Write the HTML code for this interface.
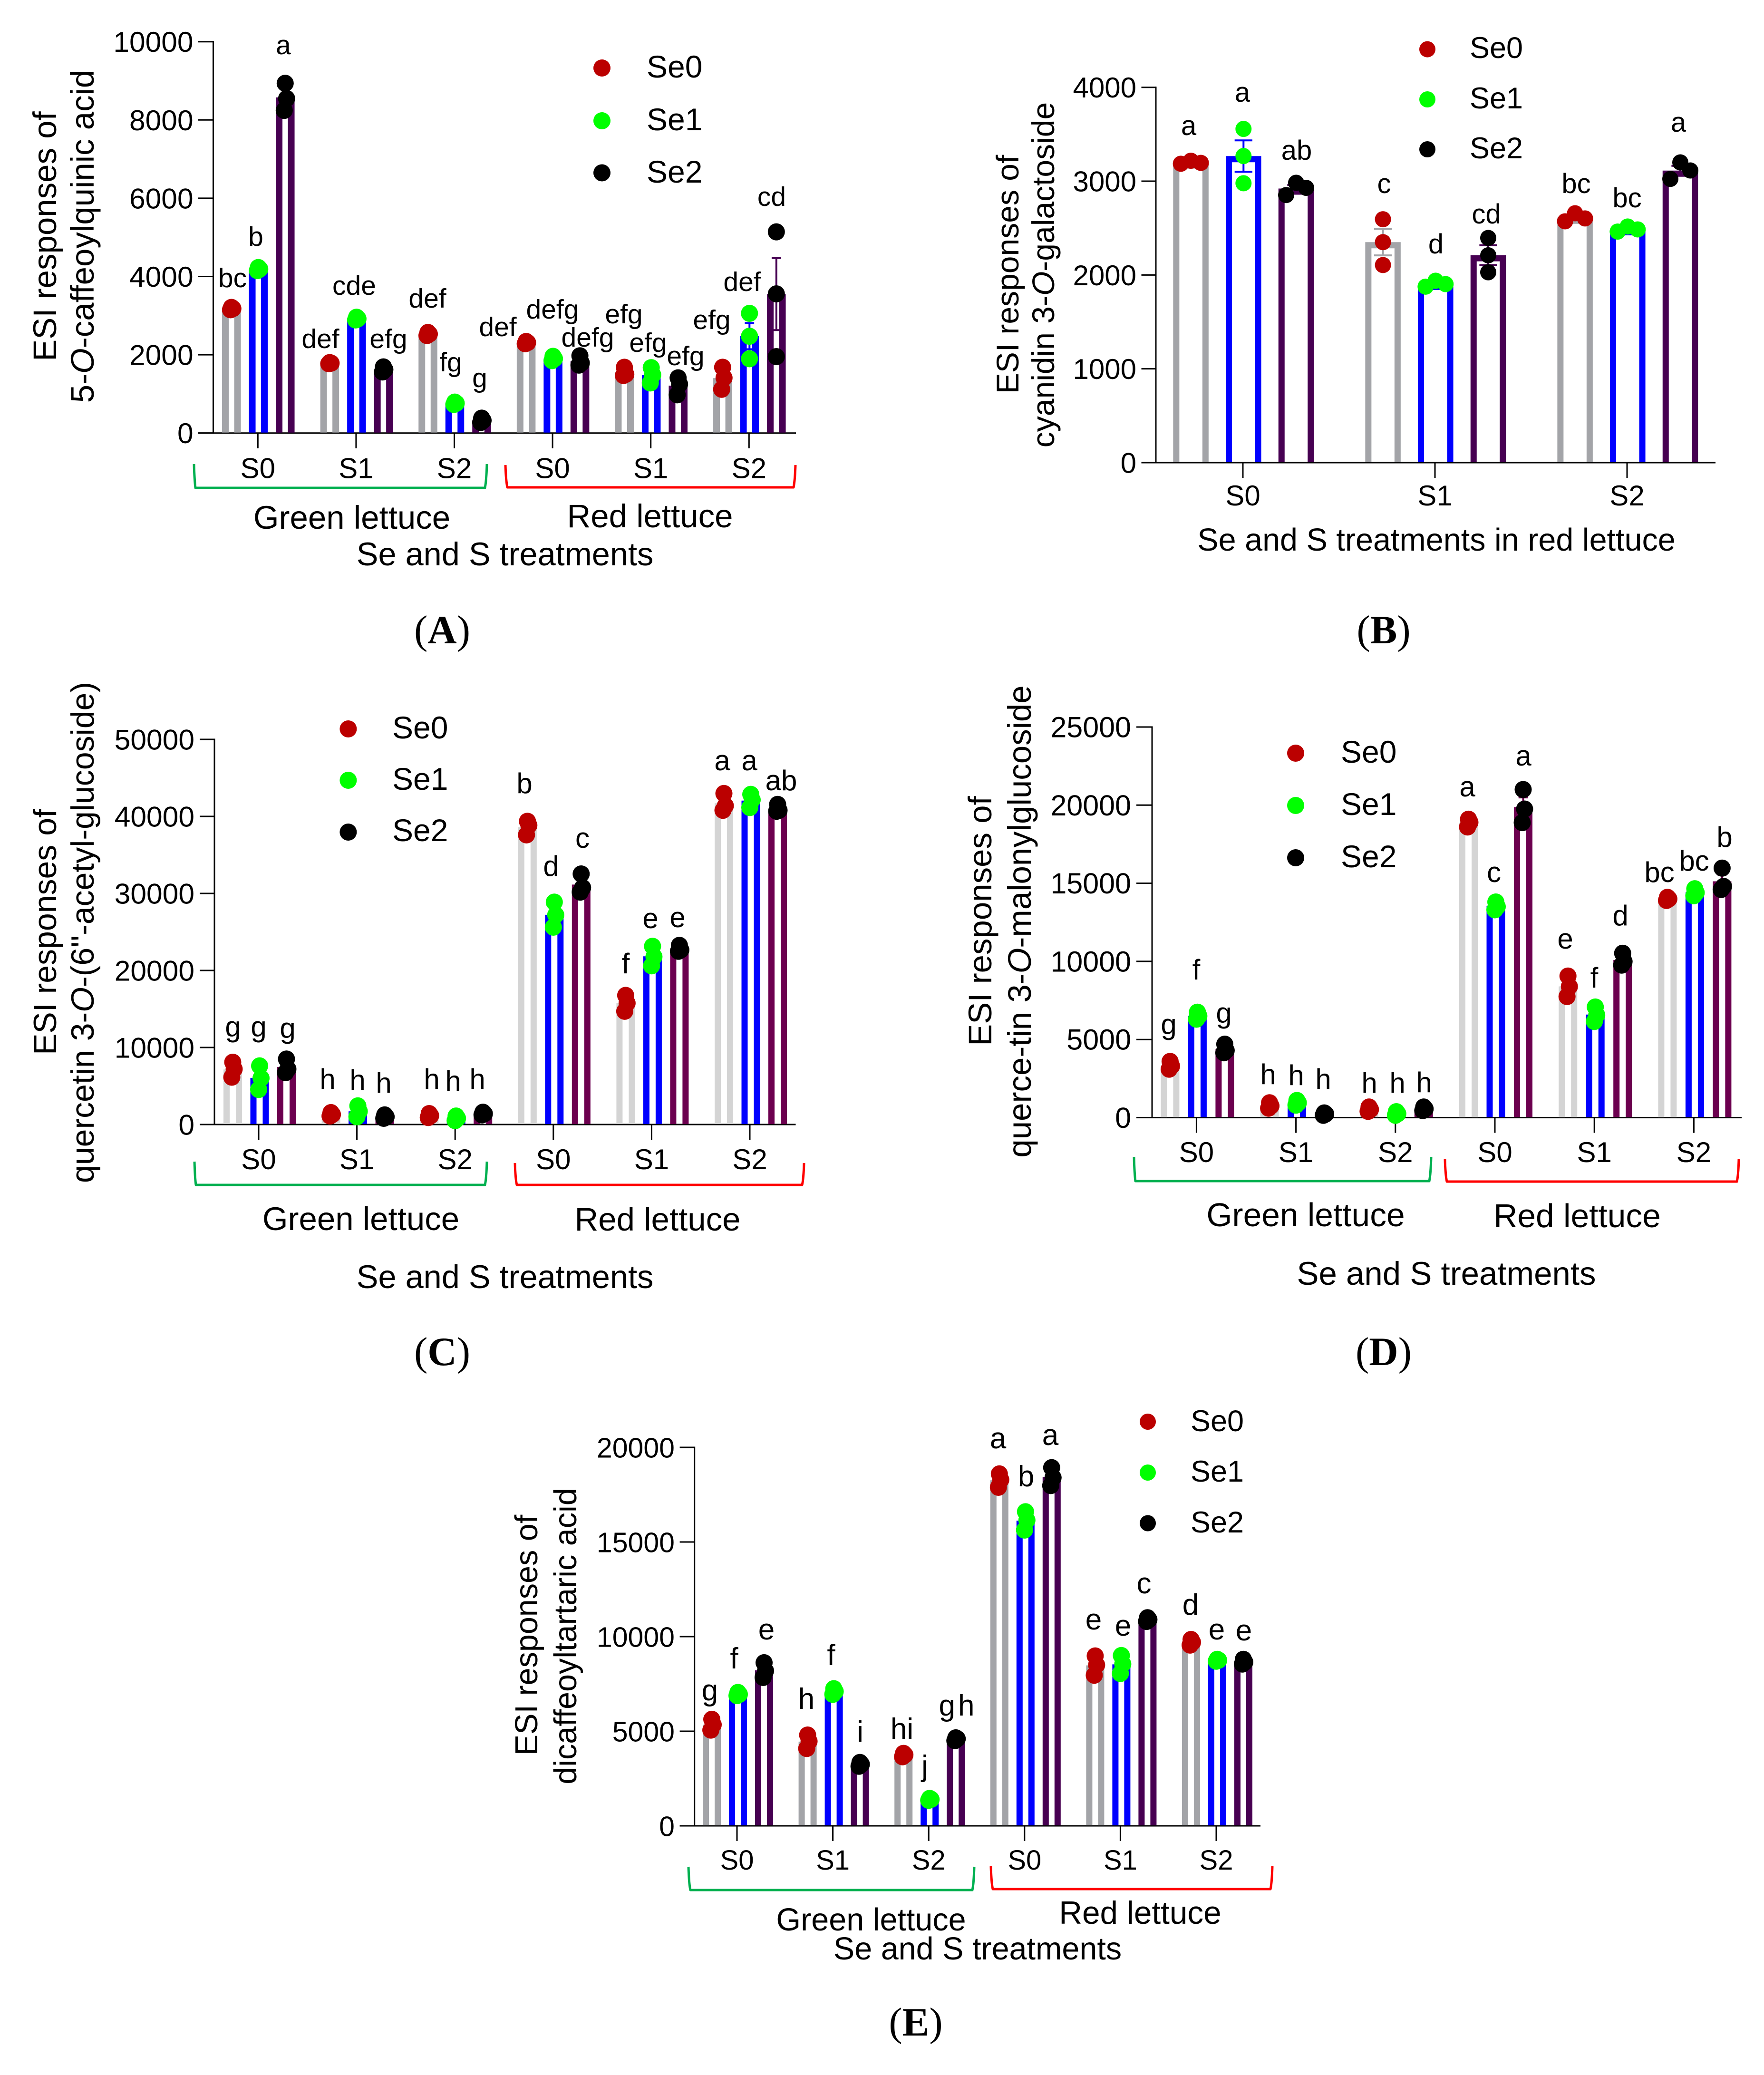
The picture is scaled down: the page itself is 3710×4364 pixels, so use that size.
<!DOCTYPE html>
<html lang="en">
<head>
<meta charset="utf-8">
<title>ESI responses of phenolic compounds in lettuce</title>
<style>
html,body{margin:0;padding:0;background:#fff}
svg{display:block}
text{font-family:"Liberation Sans",Arial,sans-serif;fill:#000}
.sig{text-anchor:middle}
.ttl{text-anchor:middle}
.lbl{text-anchor:middle}
.cap{font-family:"Liberation Serif","Times New Roman",serif;font-size:85px;text-anchor:middle}
.cap tspan{font-weight:bold}
.brk{fill:none;stroke-width:5;stroke-linejoin:round}
</style>
</head>
<body>
<svg id="figure" xmlns="http://www.w3.org/2000/svg" width="3710" height="4364" viewBox="0 0 3710 4364">
<rect width="3710" height="4364" fill="#fff"/>

<!-- PANEL A -->
<g>
  <g id="marks-a"></g>
  <g font-size="69">
    <text class="ttl" transform="translate(118,497) rotate(-90)">ESI responses of</text>
    <text class="ttl" transform="translate(197,497) rotate(-90)">5-<tspan font-style="italic">O</tspan>-caffeoylquinic acid</text>
  </g>
  <path class="brk" stroke="#00b050" d="M408,976 Q409,1010 411,1026 H1020 Q1023,1010 1024,976"/>
  <path class="brk" stroke="#ff0000" d="M1063,978 Q1064,1010 1067,1025 H1669 Q1672,1010 1673,978"/>
  <g font-size="69">
    <text class="lbl" x="740" y="1112">Green lettuce</text>
    <text class="lbl" x="1367" y="1109">Red lettuce</text>
    <text class="lbl" x="1062" y="1189" font-size="68.5">Se and S treatments</text>
  </g>
  <g>
    <circle cx="1266" cy="143" r="18" fill="#bb0000"/>
    <circle cx="1266" cy="254" r="18" fill="#00ff00"/>
    <circle cx="1266" cy="363.5" r="18" fill="#000"/>
    <text x="1360" y="163" font-size="66">Se0</text>
    <text x="1360" y="274" font-size="66">Se1</text>
    <text x="1360" y="384" font-size="66">Se2</text>
  </g>
  <g font-size="57">
    <text class="sig" x="489" y="604">bc</text>
    <text class="sig" x="538" y="517">b</text>
    <text class="sig" x="596" y="114">a</text>
    <text class="sig" x="674" y="732">def</text>
    <text class="sig" x="745" y="620">cde</text>
    <text class="sig" x="817" y="732">efg</text>
    <text class="sig" x="899" y="647">def</text>
    <text class="sig" x="948" y="781">fg</text>
    <text class="sig" x="1009" y="814">g</text>
    <text class="sig" x="1047" y="707">def</text>
    <text class="sig" x="1162" y="670">defg</text>
    <text class="sig" x="1236" y="729">defg</text>
    <text class="sig" x="1312" y="680">efg</text>
    <text class="sig" x="1363" y="740">efg</text>
    <text class="sig" x="1442" y="768">efg</text>
    <text class="sig" x="1497" y="692">efg</text>
    <text class="sig" x="1561" y="612">def</text>
    <text class="sig" x="1623" y="433">cd</text>
  </g>
  <text class="cap" x="930" y="1353">(<tspan>A</tspan>)</text>
</g>

<!-- PANEL B -->
<g>
  <g id="marks-b"></g>
  <g font-size="66">
    <text class="ttl" transform="translate(2142,577) rotate(-90)">ESI responses of</text>
    <text class="ttl" transform="translate(2217,578) rotate(-90)">cyanidin 3-<tspan font-style="italic">O</tspan>-galactoside</text>
  </g>
  <text class="lbl" x="3021" y="1158" font-size="66.5">Se and S treatments in red lettuce</text>
  <g>
    <circle cx="3002" cy="103.6" r="17" fill="#bb0000"/>
    <circle cx="3002" cy="209" r="17" fill="#00ff00"/>
    <circle cx="3002" cy="314" r="17" fill="#000"/>
    <text x="3091" y="122" font-size="63">Se0</text>
    <text x="3091" y="228" font-size="63">Se1</text>
    <text x="3091" y="333" font-size="63">Se2</text>
  </g>
  <g font-size="58">
    <text class="sig" x="2500" y="284">a</text>
    <text class="sig" x="2613" y="214">a</text>
    <text class="sig" x="2727" y="336">ab</text>
    <text class="sig" x="2911" y="406">c</text>
    <text class="sig" x="3020" y="533">d</text>
    <text class="sig" x="3126" y="470">cd</text>
    <text class="sig" x="3315" y="406">bc</text>
    <text class="sig" x="3422" y="436">bc</text>
    <text class="sig" x="3530" y="277">a</text>
  </g>
  <text class="cap" x="2910" y="1353">(<tspan>B</tspan>)</text>
</g>

<!-- PANEL C -->
<g>
  <g id="marks-c"></g>
  <g font-size="68">
    <text class="ttl" transform="translate(118,1960) rotate(-90)">ESI responses of</text>
    <text class="ttl" transform="translate(197,1961) rotate(-90)">quercetin 3-<tspan font-style="italic">O</tspan>-(6''-acetyl-glucoside)</text>
  </g>
  <path class="brk" stroke="#00b050" d="M409,2443 Q410,2478 412,2492 H1020 Q1023,2478 1024,2443"/>
  <path class="brk" stroke="#ff0000" d="M1083,2446 Q1084,2480 1087,2492 H1687 Q1690,2480 1691,2446"/>
  <g font-size="69">
    <text class="lbl" x="759" y="2587">Green lettuce</text>
    <text class="lbl" x="1383" y="2588">Red lettuce</text>
    <text class="lbl" x="1062" y="2709" font-size="68.5">Se and S treatments</text>
  </g>
  <g>
    <circle cx="732.4" cy="1533" r="18" fill="#bb0000"/>
    <circle cx="732.4" cy="1641" r="18" fill="#00ff00"/>
    <circle cx="732.4" cy="1750" r="18" fill="#000"/>
    <text x="825" y="1553" font-size="66">Se0</text>
    <text x="825" y="1661" font-size="66">Se1</text>
    <text x="825" y="1769" font-size="66">Se2</text>
  </g>
  <g font-size="60">
    <text class="sig" x="490" y="2180">g</text>
    <text class="sig" x="544" y="2180">g</text>
    <text class="sig" x="605" y="2183">g</text>
    <text class="sig" x="689" y="2290">h</text>
    <text class="sig" x="752" y="2292">h</text>
    <text class="sig" x="807" y="2298">h</text>
    <text class="sig" x="908" y="2290">h</text>
    <text class="sig" x="953" y="2294">h</text>
    <text class="sig" x="1004" y="2290">h</text>
    <text class="sig" x="1103" y="1668">b</text>
    <text class="sig" x="1159" y="1842">d</text>
    <text class="sig" x="1225" y="1783">c</text>
    <text class="sig" x="1316" y="2047">f</text>
    <text class="sig" x="1368" y="1952">e</text>
    <text class="sig" x="1425" y="1950">e</text>
    <text class="sig" x="1519" y="1620">a</text>
    <text class="sig" x="1576" y="1620">a</text>
    <text class="sig" x="1643" y="1662">ab</text>
  </g>
  <text class="cap" x="930" y="2871">(<tspan>C</tspan>)</text>
</g>

<!-- PANEL D -->
<g>
  <g id="marks-d"></g>
  <g font-size="69">
    <text class="ttl" transform="translate(2085,1937) rotate(-90)">ESI responses of</text>
    <text class="ttl" transform="translate(2168,1938) rotate(-90)">querce-tin 3-<tspan font-style="italic">O</tspan>-malonylglucoside</text>
  </g>
  <path class="brk" stroke="#00b050" d="M2385,2433 Q2386,2470 2388,2484 H3006 Q3009,2470 3010,2433"/>
  <path class="brk" stroke="#ff0000" d="M3039,2438 Q3040,2472 3043,2485 H3653 Q3656,2472 3657,2438"/>
  <g font-size="69.5">
    <text class="lbl" x="2746" y="2579">Green lettuce</text>
    <text class="lbl" x="3317" y="2581">Red lettuce</text>
    <text class="lbl" x="3042" y="2702" font-size="69">Se and S treatments</text>
  </g>
  <g>
    <circle cx="2725" cy="1584" r="18" fill="#bb0000"/>
    <circle cx="2725" cy="1694" r="18" fill="#00ff00"/>
    <circle cx="2725" cy="1804" r="18" fill="#000"/>
    <text x="2820" y="1604" font-size="66">Se0</text>
    <text x="2820" y="1714" font-size="66">Se1</text>
    <text x="2820" y="1824" font-size="66">Se2</text>
  </g>
  <g font-size="60">
    <text class="sig" x="2458" y="2175">g</text>
    <text class="sig" x="2516" y="2060">f</text>
    <text class="sig" x="2574" y="2151">g</text>
    <text class="sig" x="2667" y="2280">h</text>
    <text class="sig" x="2726" y="2282">h</text>
    <text class="sig" x="2783" y="2290">h</text>
    <text class="sig" x="2880" y="2298">h</text>
    <text class="sig" x="2939" y="2298">h</text>
    <text class="sig" x="2995" y="2297">h</text>
    <text class="sig" x="3086" y="1675">a</text>
    <text class="sig" x="3142" y="1855">c</text>
    <text class="sig" x="3204" y="1610">a</text>
    <text class="sig" x="3292" y="1995">e</text>
    <text class="sig" x="3353" y="2077">f</text>
    <text class="sig" x="3408" y="1946">d</text>
    <text class="sig" x="3490" y="1855">bc</text>
    <text class="sig" x="3563" y="1831">bc</text>
    <text class="sig" x="3627" y="1781">b</text>
  </g>
  <text class="cap" x="2910" y="2871">(<tspan>D</tspan>)</text>
</g>

<!-- PANEL E -->
<g>
  <g id="marks-e"></g>
  <g font-size="66.5">
    <text class="ttl" transform="translate(1130,3439) rotate(-90)">ESI responses of</text>
    <text class="ttl" transform="translate(1212,3441) rotate(-90)">dicaffeoyltartaric acid</text>
  </g>
  <path class="brk" stroke="#00b050" d="M1448,3926 Q1449,3962 1452,3975 H2045 Q2048,3962 2049,3926"/>
  <path class="brk" stroke="#ff0000" d="M2084,3925 Q2085,3960 2088,3973 H2672 Q2675,3960 2676,3925"/>
  <g font-size="66.5">
    <text class="lbl" x="1832" y="4060">Green lettuce</text>
    <text class="lbl" x="2398" y="4046" font-size="67.5">Red lettuce</text>
    <text class="lbl" x="2056" y="4121">Se and S treatments</text>
  </g>
  <g>
    <circle cx="2414" cy="2990" r="17" fill="#bb0000"/>
    <circle cx="2414" cy="3097" r="17" fill="#00ff00"/>
    <circle cx="2414" cy="3203.5" r="17" fill="#000"/>
    <text x="2504" y="3010" font-size="63">Se0</text>
    <text x="2504" y="3116" font-size="63">Se1</text>
    <text x="2504" y="3223" font-size="63">Se2</text>
  </g>
  <g font-size="62">
    <text class="sig" x="1493" y="3576">g</text>
    <text class="sig" x="1544" y="3509">f</text>
    <text class="sig" x="1612" y="3448">e</text>
    <text class="sig" x="1696" y="3594">h</text>
    <text class="sig" x="1748" y="3502">f</text>
    <text class="sig" x="1809" y="3663">i</text>
    <text class="sig" x="1897" y="3657">hi</text>
    <text class="sig" x="1945" y="3735">j</text>
    <text class="sig" x="2015" y="3608" letter-spacing="6">gh</text>
    <text class="sig" x="2099" y="3046">a</text>
    <text class="sig" x="2158" y="3126">b</text>
    <text class="sig" x="2209" y="3039">a</text>
    <text class="sig" x="2300" y="3427">e</text>
    <text class="sig" x="2362" y="3440">e</text>
    <text class="sig" x="2406" y="3351">c</text>
    <text class="sig" x="2504" y="3396">d</text>
    <text class="sig" x="2559" y="3448">e</text>
    <text class="sig" x="2616" y="3450">e</text>
  </g>
  <text class="cap" x="1926" y="4281">(<tspan>E</tspan>)</text>
</g>
</svg>

<script>
// ---- Data: each group holds the three replicate readings; bars and error bars derive from them ----
const categoriesSix = ["S0", "S1", "S2", "S0", "S1", "S2"];
const categoriesThree = ["S0", "S1", "S2"];

const panelATicks = ["0", "2000", "4000", "6000", "8000", "10000"];
const panelASe0 = [[3150,3180,3210],[1770,1785,1800],[2490,2530,2570],[2280,2310,2340],[1470,1500,1680],[1680,1410,1117]];
const panelASe1 = [[4150,4190,4230],[2890,2920,2960],[730,760,790],[1850,1900,1960],[1670,1486,1280],[3058,2473,1898]];
const panelASe2 = [[8937,8547,8243],[1560,1620,1690],[270,320,380],[1974,1790,1735],[1410,1247,976],[5141,3557,1952]];

const panelBTicks = ["0", "1000", "2000", "3000", "4000"];
const panelBSe0 = [[3186,3218,3195],[2594,2350,2106],[2572,2658,2603]];
const panelBSe1 = [[3557,3268,2978],[1876,1939,1903],[2463,2517,2486]];
const panelBSe2 = [[2852,2983,2929],[2395,2210,2029],[3024,3200,3114]];

const panelCTicks = ["0", "10000", "20000", "30000", "40000", "50000"];
const panelCSe0 = [[8087,7200,6140],[1100,1300,1550],[900,1150,1420],[39370,38840,37600],[16765,15760,14700],[42975,41380,40790]];
const panelCSe1 = [[7615,6020,4545],[2420,1710,1000],[500,800,1100],[28870,27210,25620],[23140,21780,20600],[42860,42150,41150]];
const panelCSe2 = [[8500,7200,6730],[800,1000,1250],[1250,1400,1600],[32530,30750,30170],[23260,22670,22490],[41560,40790,40670]];

const panelDTicks = ["0", "5000", "10000", "15000", "20000", "25000"];
const panelDSe0 = [[3100,3300,3600],[600,750,950],[400,520,680],[18600,18900,19100],[9060,8390,7750],[13900,14000,14100]];
const panelDSe1 = [[6300,6500,6750],[800,950,1100],[150,250,380],[13300,13500,13800],[7080,6560,6150],[14200,14400,14650]];
const panelDSe2 = [[4150,4300,4700],[150,230,300],[450,560,680],[21000,19750,18880],[10520,9990,9760],[15970,14800,14600]];

const panelETicks = ["0", "5000", "10000", "15000", "20000"];
const panelESe0 = [[5630,5345,5060],[4800,4465,4085],[3650,3750,3830],[18600,18290,17890],[8980,8500,7960],[9550,9700,9850]];
const panelESe1 = [[6880,6950,7050],[6950,7100,7250],[1350,1400,1450],[16600,16150,15630],[9000,8550,8050],[8700,8750,8800]];
const panelESe2 = [[8620,8190,7840],[3150,3250,3350],[4500,4600,4650],[18930,18400,17980],[10800,10900,11000],[8550,8650,8800]];

// ---- Layout of each panel (pixels, styles) kept apart from the data ----
const darkStyle = {gray: "#a3a4a8", blue: "#0000ff", purple: "#470052"};
const lightStyle = {gray: "#d4d4d4", blue: "#0000ff", purple: "#6c004f"};
const dotColors = ["#bb0000", "#00ff00", "#000000"];
const panels = [
  {id:"marks-a", cats:categoriesSix, ticks:panelATicks, series:[panelASe0,panelASe1,panelASe2], yMax:10000,
   axisX:448.5, y0:910.7, yTop:87.7, xLeft:416.8, xRight:1674, catX0:542.3, catStep:206.6, barOff:1, barStep:56.5,
   barW:39.5, strip:14, r:18, spread:0, tickRight:406.6, catBase:1005.6, tickFont:60.5, catFont:60, style:darkStyle},
  {id:"marks-b", cats:categoriesThree, ticks:panelBTicks, series:[panelBSe0,panelBSe1,panelBSe2], yMax:4000,
   axisX:2431, y0:973, yTop:183.7, xLeft:2400.5, xRight:3608, catX0:2614, catStep:404, barOff:1.3, barStep:110.7,
   barW:74.5, strip:13, r:17, spread:21, tickRight:2390, catBase:1063, tickFont:60, catFont:60, style:darkStyle},
  {id:"marks-c", cats:categoriesSix, ticks:panelCTicks, series:[panelCSe0,panelCSe1,panelCSe2], yMax:50000,
   axisX:451, y0:2365, yTop:1555, xLeft:420, xRight:1673.5, catX0:544, catStep:206.6, barOff:2, barStep:56.5,
   barW:39, strip:13, r:18, spread:0, tickRight:409, catBase:2459, tickFont:60.5, catFont:60, style:lightStyle},
  {id:"marks-d", cats:categoriesSix, ticks:panelDTicks, series:[panelDSe0,panelDSe1,panelDSe2], yMax:25000,
   axisX:2423, y0:2350.5, yTop:1529, xLeft:2390, xRight:3663, catX0:2516.4, catStep:209.2, barOff:2, barStep:57.5,
   barW:39, strip:13, r:18, spread:0, tickRight:2379, catBase:2444, tickFont:61, catFont:60, style:lightStyle},
  {id:"marks-e", cats:categoriesSix, ticks:panelETicks, series:[panelESe0,panelESe1,panelESe2], yMax:20000,
   axisX:1460.7, y0:3840, yTop:3044, xLeft:1429.6, xRight:2651, catX0:1550, catStep:201.6, barOff:2, barStep:55,
   barW:38, strip:13, r:18, spread:0, tickRight:1419, catBase:3932, tickFont:59, catFont:58, style:darkStyle}
];

const SVGNS = "http://www.w3.org/2000/svg";
function make(tag, attrs, parent) {
  const node = document.createElementNS(SVGNS, tag);
  Object.keys(attrs).forEach(function (k) { node.setAttribute(k, attrs[k]); });
  parent.appendChild(node);
  return node;
}
function mean(a) { return a.reduce(function (s, v) { return s + v; }, 0) / a.length; }
function sem(a) {
  const m = mean(a);
  const sd = Math.sqrt(a.reduce(function (s, v) { return s + (v - m) * (v - m); }, 0) / (a.length - 1));
  return sd / Math.sqrt(a.length);
}
// Horizontal swarm offsets for the three replicate dots of a group
function swarm(values, yScale, p) {
  const sorted = values.slice().sort(function (a, b) { return a - b; });
  const lo = sorted[0], mid = sorted[1], hi = sorted[2];
  const range = yScale(lo) - yScale(hi);
  const gap = Math.min(yScale(lo) - yScale(mid), yScale(mid) - yScale(hi));
  if (p.spread > 0) {
    if (range < 45) return [{v: lo, dx: -p.spread}, {v: hi, dx: 0}, {v: mid, dx: p.spread}];
    return [{v: lo, dx: 0}, {v: mid, dx: 0}, {v: hi, dx: 0}];
  }
  if (gap < 45) return [{v: lo, dx: -2}, {v: hi, dx: 0}, {v: mid, dx: 3}];
  return [{v: lo, dx: 0}, {v: mid, dx: 0}, {v: hi, dx: 0}];
}

function drawPanel(p) {
  const root = document.getElementById(p.id);
  const yScale = function (v) { return p.y0 - (v / p.yMax) * (p.y0 - p.yTop); };
  const catX = function (i) { return p.catX0 + i * p.catStep; };
  const barX = function (i, s) { return catX(i) + p.barOff + (s - 1) * p.barStep; };

  // Axes
  const yAxis = make("line", {x1: p.axisX, x2: p.axisX, y1: p.yTop - 1.5, y2: p.y0 + 1.5, stroke: "#000", "stroke-width": 3}, root);
  
  
  const xAxis = make("line", {x1: p.xLeft, x2: p.xRight, y1: p.y0, y2: p.y0, stroke: "#000", "stroke-width": 3}, root);
  
  

  p.ticks.forEach(function (label) {
    const y = yScale(Number(label));
    const tick = make("line", {x1: p.xLeft, x2: p.axisX, y1: y, y2: y, stroke: "#000", "stroke-width": 3}, root);
    
    
    const t = make("text", {x: p.tickRight, y: y + 21.5, "font-size": p.tickFont, "text-anchor": "end"}, root);
    
    
    t.textContent = label;
  });

  p.cats.forEach(function (label, i) {
    const x = catX(i);
    const tick = make("line", {x1: x, x2: x, y1: p.y0, y2: p.y0 + 32, stroke: "#000", "stroke-width": 3}, root);
    
    
    const t = make("text", {x: x, y: p.catBase, "font-size": p.catFont, "text-anchor": "middle"}, root);
    
    
    t.textContent = label;
  });

  const barColors = [p.style.gray, p.style.blue, p.style.purple];

  // Bars with error bars
  p.series.forEach(function (groups, s) {
    groups.forEach(function (values, i) {
      const cx = barX(i, s), m = mean(values), e = sem(values);
      const left = cx - p.barW / 2, right = cx + p.barW / 2;
      const top = yScale(m), base = p.y0 - 1;
      const inner = Math.min(top + p.strip, base);
      const bar = make("path", {
        d: "M" + left + "," + base + " V" + top + " H" + right + " V" + base +
           " H" + (right - p.strip) + " V" + inner + " H" + (left + p.strip) + " V" + base + " Z",
        fill: barColors[s]
      }, root);
      
      

      const yHi = yScale(m + e), yLo = yScale(m - e), capHalf = p.barW / 4;
      const err = make("path", {
        d: "M" + cx + "," + yHi + " V" + yLo +
           " M" + (cx - capHalf) + "," + yHi + " H" + (cx + capHalf) +
           " M" + (cx - capHalf) + "," + yLo + " H" + (cx + capHalf),
        fill: "none", stroke: barColors[s], "stroke-width": 4
      }, root);
      
      
    });
  });

  // Replicate dots
  p.series.forEach(function (groups, s) {
    groups.forEach(function (values, i) {
      const cx = barX(i, s);
      swarm(values, yScale, p).forEach(function (pt) {
        const dot = make("circle", {cx: cx + pt.dx, cy: yScale(pt.v), r: p.r, fill: dotColors[s]}, root);
        
        
      });
    });
  });
}

panels.forEach(drawPanel);
</script>
</body>
</html>
